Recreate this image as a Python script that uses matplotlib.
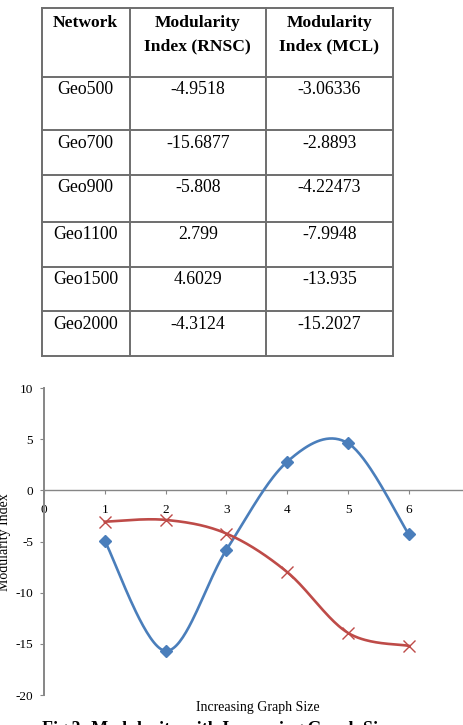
import matplotlib
matplotlib.use("Agg")
import matplotlib.pyplot as plt
import numpy as np

# table data
networks = ["Geo500", "Geo700", "Geo900", "Geo1100", "Geo1500", "Geo2000"]
rnsc = [-4.9518, -15.6877, -5.808, 2.799, 4.6029, -4.3124]
mcl = [-3.06336, -2.8893, -4.22473, -7.9948, -13.935, -15.2027]
headers = ["Network", "Modularity\nIndex (RNSC)", "Modularity\nIndex (MCL)"]

# chart data
x_pos = [1, 2, 3, 4, 5, 6]
y_ticks = [-20, -15, -10, -5, 0, 5, 10]
x_ticks = [0, 1, 2, 3, 4, 5, 6]

blue = "#4A7EBB"
red = "#BE4B48"
grey = "#868686"
serif = "Liberation Serif"


def smooth(xs, ys, n=40):
    # excel-like smoothed line (cardinal bezier)
    p = np.column_stack([xs, ys]).astype(float)
    p = np.vstack([p[0], p, p[-1]])
    out = []
    t = np.linspace(0, 1, n)[:, None]
    for i in range(1, len(p) - 2):
        p0, p1, p2, p3 = p[i - 1], p[i], p[i + 1], p[i + 2]
        c1 = p1 + (p2 - p0) / 6
        c2 = p2 - (p3 - p1) / 6
        seg = ((1 - t) ** 3) * p1 + 3 * ((1 - t) ** 2) * t * c1 + 3 * (1 - t) * t ** 2 * c2 + t ** 3 * p2
        out.append(seg)
    out = np.vstack(out)
    return out[:, 0], out[:, 1]


fig = plt.figure(figsize=(4.63, 7.25), dpi=100)

# background axes in pixel coords for the table and captions
bg = fig.add_axes([0, 0, 1, 1])
bg.set_xlim(0, 463)
bg.set_ylim(725, 0)
bg.axis("off")

col_x = [41.5, 130, 265.7, 393]
row_y = [8.3, 77, 130, 175, 222, 267, 311, 356]
line_kw = dict(color="#6e6e6e", lw=1.4)
for yy in row_y:
    bg.plot([col_x[0], col_x[-1]], [yy, yy], **line_kw)
for xx in col_x:
    bg.plot([xx, xx], [row_y[0], row_y[-1]], **line_kw)

centers = [(col_x[i] + col_x[i + 1]) / 2 for i in range(3)]
for c, h in zip(centers, headers):
    for k, part in enumerate(h.split("\n")):
        bg.text(c, 27 + 23 * k, part, ha="center", va="baseline",
                fontsize=12.6, fontweight="bold", family=serif)

baselines = [94, 148, 192, 239, 284, 329]
for b, name, r, m in zip(baselines, networks, rnsc, mcl):
    bg.text(centers[0], b, name, ha="center", va="baseline", fontsize=12.8, family=serif)
    bg.text(centers[1], b, str(r), ha="center", va="baseline", fontsize=12.8, family=serif)
    bg.text(centers[2], b, str(m), ha="center", va="baseline", fontsize=12.8, family=serif)

# chart
ax = fig.add_axes([44 / 463, 1 - 695 / 725, 1 - 44 / 463, (695 - 388) / 725])
ax.set_xlim(0, 6.89)
ax.set_ylim(-20, 10)

sx, sy = smooth(x_pos, rnsc)
ax.plot(sx, sy, color=blue, lw=1.9, zorder=3)
ax.plot(x_pos, rnsc, ls="none", marker="D", ms=6, color=blue, zorder=4)
sx, sy = smooth(x_pos, mcl)
ax.plot(sx, sy, color=red, lw=1.9, zorder=3)
ax.plot(x_pos, mcl, ls="none", marker="x", ms=9, mew=1.0, color=red, zorder=4)

for s in ["top", "right"]:
    ax.spines[s].set_visible(False)
ax.spines["bottom"].set_position(("data", 0))
ax.spines["left"].set_color(grey)
ax.spines["bottom"].set_color(grey)
ax.spines["left"].set_linewidth(1.4)
ax.spines["bottom"].set_linewidth(1.0)

ax.set_yticks(y_ticks)
ax.set_yticklabels([str(v) for v in y_ticks], family=serif, fontsize=9.5)
ax.set_xticks(x_ticks)
ax.set_xticklabels([str(v) for v in x_ticks], family=serif, fontsize=9.5)
ax.tick_params(axis="y", length=3, color=grey, pad=5)
ax.tick_params(axis="x", length=3, color=grey, pad=7)

# legend drawn by hand, matching Excel placement
bg.plot([345, 379], [560, 560], color=blue, lw=1.9)
bg.plot([362], [560], marker="D", ms=4, color=blue)
bg.text(382, 560, "RNSC", va="center", fontsize=9.5, family=serif)
bg.plot([345, 379], [582, 582], color=red, lw=1.9)
bg.plot([362], [582], marker="x", ms=5, mew=1, color=red)
bg.text(382, 582, "MCL", va="center", fontsize=9.5, family=serif)

bg.text(5, 542, "Modularity Index", rotation=90, ha="center", va="center",
        fontsize=10, family=serif)
bg.text(258, 707, "Increasing Graph Size", ha="center", va="center",
        fontsize=10, family=serif)
bg.text(42, 721, "Fig 3: Modularity with Increasing Graph Size", ha="left", va="top",
        fontsize=13, fontweight="bold", family=serif)

fig.savefig("out.png", dpi=100)
